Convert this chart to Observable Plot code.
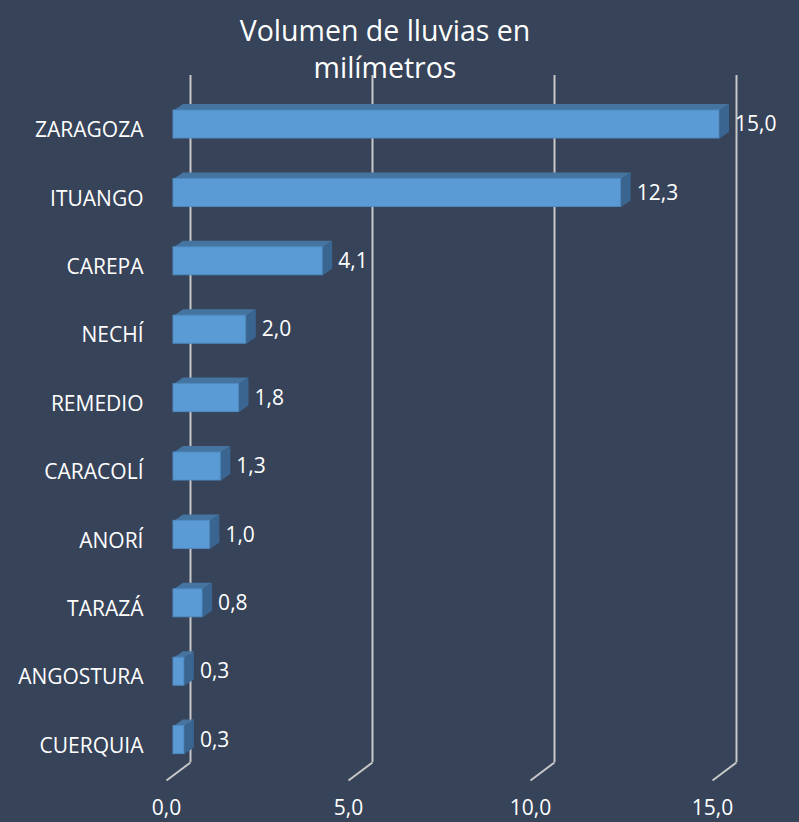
<!DOCTYPE html>
<html><head><meta charset="utf-8">
<script src="https://cdn.jsdelivr.net/npm/d3@7"></script>
<script src="https://cdn.jsdelivr.net/npm/@observablehq/plot@0.6"></script>
<style>html,body{margin:0;padding:0;background:#364359;}</style>
</head><body><div id="chart"></div>
<script>
const categories = ["ZARAGOZA","ITUANGO","CAREPA","NECHÍ","REMEDIO","CARACOLÍ","ANORÍ","TARAZÁ","ANGOSTURA","CUERQUIA"];
const values = [15.0,12.3,4.1,2.0,1.8,1.3,1.0,0.8,0.3,0.3];
const xTicks = [0,5,10,15];
const titleLines = ["Volumen de lluvias en","milímetros"];

const fmt = v => d3.format(".1f")(v).replace(".", ",");
const W = 799, H = 822;
const xDomain = [0,15], xRange = [173,719];
const yDomain = [-0.5, categories.length - 0.5], yRange = [89.8, 773.8];
const pxX = (xRange[1]-xRange[0])/(xDomain[1]-xDomain[0]);
const pxY = (yRange[1]-yRange[0])/(yDomain[1]-yDomain[0]);
const yAt = px => yDomain[0] + (px - yRange[0])/pxY;
const half = 14/pxY, ddx = 9.5/pxX, ddy = 6.5/pxY;
const rows = categories.map((c,i)=>({c, i, v: values[i]}));
const topFaces = rows.flatMap(d=>[
  {id:d.i,x:0,y:d.i-half},{id:d.i,x:d.v,y:d.i-half},
  {id:d.i,x:d.v+ddx,y:d.i-half-ddy},{id:d.i,x:ddx,y:d.i-half-ddy}]);
const sideFaces = rows.flatMap(d=>[
  {id:d.i,x:d.v,y:d.i-half},{id:d.i,x:d.v+ddx,y:d.i-half-ddy},
  {id:d.i,x:d.v+ddx,y:d.i+half-ddy},{id:d.i,x:d.v,y:d.i+half}]);
const wallDx = 17/pxX, floorDx = -7/pxX;
const gridTop = yAt(75), gridBottom = yAt(762), floorFront = yAt(780), tickY = yAt(808);
const grid = "#C8C8C8";
const font = "'Open Sans', sans-serif";

const chart = Plot.plot({
  width: W, height: H,
  marginTop: 0, marginRight: 0, marginBottom: 0, marginLeft: 0,
  style: {background: "#364359", fontFamily: font},
  x: {domain: xDomain, range: xRange, axis: null},
  y: {domain: yDomain, range: yRange, axis: null},
  marks: [
    Plot.ruleX(xTicks, {x: d => d + wallDx, y1: () => gridTop, y2: () => gridBottom, stroke: grid, strokeWidth: 2}),
    Plot.link(xTicks, {x1: d => d + wallDx, y1: () => gridBottom, x2: d => d + floorDx, y2: () => floorFront, stroke: grid, strokeWidth: 2}),
    Plot.text(xTicks, {x: d => d + floorDx, y: () => tickY, text: d => fmt(d), fill: "white", fontSize: 21}),
    Plot.line(topFaces, {x: "x", y: "y", z: "id", fill: "#4574A1", stroke: "none"}),
    Plot.line(sideFaces, {x: "x", y: "y", z: "id", fill: "#3A6590", stroke: "none"}),
    Plot.rect(rows, {x1: () => 0, x2: "v", y1: d => d.i - half, y2: d => d.i + half, fill: "#5B9BD5", stroke: "#4F8AC0", strokeWidth: 1}),
    Plot.text(rows, {x: d => d.v + ddx, y: "i", text: d => fmt(d.v), dx: 6, textAnchor: "start", fill: "white", fontSize: 21}),
    Plot.text(rows, {x: () => 0, y: "i", text: "c", dx: -30, dy: 6, textAnchor: "end", fill: "white", fontSize: 21}),
    Plot.text([titleLines[0]], {frameAnchor: "top", text: d => d, dx: -15, dy: 40, fill: "white", fontSize: 28.5, lineAnchor: "bottom"}),
    Plot.text([titleLines[1]], {frameAnchor: "top", text: d => d, dx: -15, dy: 77, fill: "white", fontSize: 28.5, lineAnchor: "bottom"})
  ]
});
document.getElementById("chart").appendChild(chart);
</script>
</body></html>
